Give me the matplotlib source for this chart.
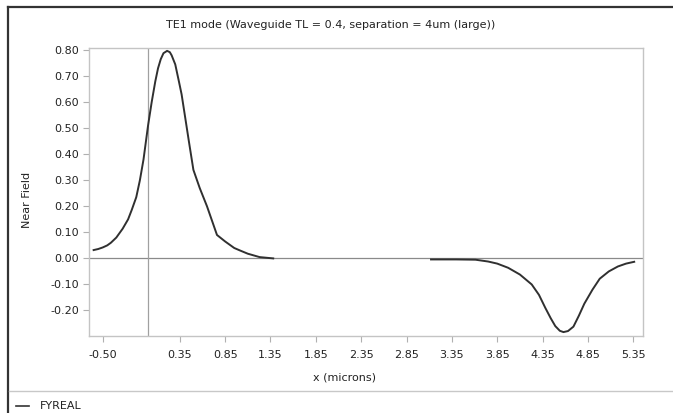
import matplotlib
matplotlib.use('Agg')
import matplotlib.pyplot as plt
from matplotlib.lines import Line2D

plt.rcParams['font.family'] = ['DejaVu Sans']
plt.rcParams['font.size'] = 8

title = 'TE1 mode (Waveguide TL = 0.4, separation = 4um (large))'
xlabel = 'x (microns)'
ylabel = 'Near Field'
series_name = 'FYREAL'

# FYREAL, left lobe (core 1)
left_x = [-0.60, -0.55, -0.50, -0.45, -0.41, -0.35, -0.28, -0.22, -0.18, -0.13,
          -0.09, -0.05, 0.00, 0.04, 0.08, 0.11, 0.14, 0.17, 0.21, 0.24,
          0.26, 0.30, 0.34, 0.37, 0.41, 0.45, 0.50, 0.57, 0.65, 0.72,
          0.76, 0.85, 0.95, 1.01, 1.10, 1.23, 1.38]
left_y = [0.032, 0.036, 0.042, 0.050, 0.060, 0.080, 0.114, 0.150, 0.186, 0.235,
          0.300, 0.380, 0.510, 0.600, 0.680, 0.730, 0.765, 0.788, 0.797, 0.792,
          0.780, 0.745, 0.680, 0.630, 0.540, 0.450, 0.340, 0.270, 0.200, 0.130,
          0.090, 0.065, 0.040, 0.031, 0.018, 0.005, 0.000]
# FYREAL, right lobe (core 2)
right_x = [3.12, 3.40, 3.61, 3.75, 3.85, 3.97, 4.10, 4.23, 4.31, 4.38, 4.44, 4.49,
           4.54, 4.58, 4.63, 4.69, 4.75, 4.81, 4.90, 4.98, 5.08, 5.18, 5.27, 5.36]
right_y = [-0.004, -0.004, -0.005, -0.012, -0.020, -0.036, -0.062, -0.100, -0.140,
           -0.190, -0.230, -0.260, -0.278, -0.283, -0.279, -0.262, -0.220, -0.174,
           -0.120, -0.078, -0.050, -0.031, -0.020, -0.013]

xticks = [-0.50, 0.35, 0.85, 1.35, 1.85, 2.35, 2.85, 3.35, 3.85, 4.35, 4.85, 5.35]
yticks = [-0.20, -0.10, 0.00, 0.10, 0.20, 0.30, 0.40, 0.50, 0.60, 0.70, 0.80]

W, H = 673, 413
fig = plt.figure(figsize=(W/100, H/100), dpi=100)
ax = fig.add_axes([89/W, 1-336/H, (643-89)/W, (336-48)/H])

ax.axhline(0, color='#8a8a8a', linewidth=0.9, zorder=1)
ax.axvline(0, color='#a0a0a0', linewidth=0.9, zorder=1)
ax.plot(left_x, left_y, color='#303030', linewidth=1.4, zorder=3)
ax.plot(right_x, right_y, color='#303030', linewidth=1.4, zorder=3)

ax.set_xlim(-0.651, 5.457)
ax.set_ylim(-0.298, 0.808)
ax.set_xticks(xticks)
ax.set_xticklabels(['{:.2f}'.format(x) for x in xticks])
ax.set_yticks(yticks)
ax.set_yticklabels(['{:.2f}'.format(y) for y in yticks])
ax.tick_params(direction='out', length=4, width=0.8, color='#b0b0b0',
               labelcolor='#222222', labelsize=8)
ax.tick_params(axis='x', pad=6)
ax.tick_params(axis='y', pad=3)
for s in ax.spines.values():
  s.set_color('#c4c4c4')
  s.set_linewidth(1.0)

fig.text(27/W, 1-200/H, ylabel, rotation=90, ha='center', va='center', color='#222222', fontsize=8)
fig.text(345/W, 1-378/H, xlabel, ha='center', va='center', color='#222222', fontsize=8)
fig.text(331/W, 1-25/H, title, ha='center', va='center', color='#222222', fontsize=8)

# outer frame and legend strip
fig.add_artist(Line2D([8/W, 1], [1-7/H, 1-7/H], color='#333333', linewidth=1.6))
fig.add_artist(Line2D([8/W, 8/W], [0, 1-7/H], color='#333333', linewidth=1.6))
fig.add_artist(Line2D([9/W, 1], [1-391/H, 1-391/H], color='#c8c8c8', linewidth=1.0))
fig.add_artist(Line2D([16/W, 29/W], [1-406/H, 1-406/H], color='#333333', linewidth=1.2))
fig.text(40/W, 1-406/H, series_name, ha='left', va='center', color='#222222', fontsize=8)

fig.savefig('out.png', dpi=100)
plt.close(fig)
